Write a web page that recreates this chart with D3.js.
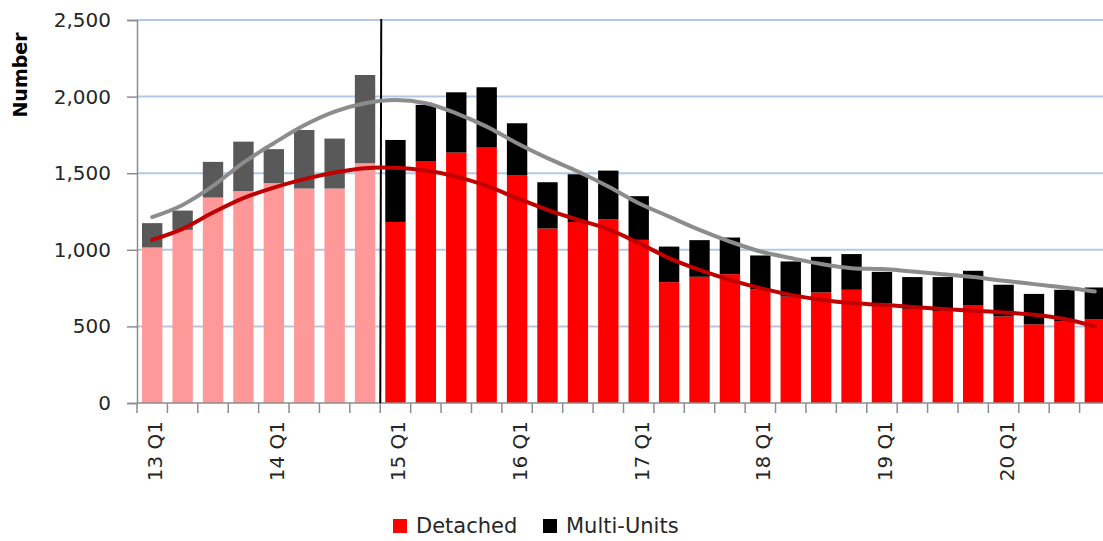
<!DOCTYPE html>
<html>
<head>
<meta charset="utf-8">
<script src="https://cdn.jsdelivr.net/npm/d3@7"></script>
<style>
  html, body { margin: 0; padding: 0; background: #fff; }
  svg { display: block; font-family: "DejaVu Sans", sans-serif; }
</style>
</head>
<body>
<svg id="chart" width="1103" height="541"></svg>
<script>
const quarters = [
  "13 Q1","13 Q2","13 Q3","13 Q4","14 Q1","14 Q2","14 Q3","14 Q4",
  "15 Q1","15 Q2","15 Q3","15 Q4","16 Q1","16 Q2","16 Q3","16 Q4",
  "17 Q1","17 Q2","17 Q3","17 Q4","18 Q1","18 Q2","18 Q3","18 Q4",
  "19 Q1","19 Q2","19 Q3","19 Q4","20 Q1","20 Q2","20 Q3","20 Q4"
];
const detached = [1015,1130,1341,1383,1435,1400,1400,1565, 1182,1576,1635,1667,1485,1139,1182,1200,
                  1065,789,824,841,743,695,722,739, 652,615,597,636,565,513,532,548];
const multiUnits = [159,126,233,323,222,382,326,576, 535,370,393,394,341,302,311,317,
                    285,232,239,239,220,229,232,233, 204,207,225,227,207,199,207,206];
const totalTrend = [1213,1293,1417,1569,1696,1813,1902,1957, 1978,1957,1891,1804,1696,1598,1511,1413,
                    1304,1217,1130,1054,989,946,907,880, 874,858,841,822,798,776,754,728];
const detachedTrend = [1065,1137,1243,1337,1406,1461,1504,1533, 1535,1517,1478,1417,1337,1261,1196,1135,
                       1044,946,869,804,750,706,674,652, 641,626,613,602,591,576,548,500];
const yTicks = [0,500,1000,1500,2000,2500];
const splitQuarter = "15 Q1";
const legendItems = ["Detached","Multi-Units"];

const svg = d3.select("#chart");
const pLeft = 137, pRight = 1110, pTop = 20, pBottom = 403;

const x = d3.scaleBand().domain(quarters).range([pLeft, pRight]).paddingInner(0.33).paddingOuter(0.165);
const step = x.step();
const y = d3.scaleLinear().domain([0, 2500]).range([pBottom, pTop]);

// gridlines
svg.append("g").selectAll("line").data(yTicks.filter(d => d > 0)).join("line")
  .attr("x1", pLeft).attr("x2", 1103)
  .attr("y1", d => y(d)).attr("y2", d => y(d))
  .attr("stroke", "#B4C7E7").attr("stroke-width", 2);

const splitIndex = quarters.indexOf(splitQuarter);
const data = quarters.map((q, i) => ({q, i, det: detached[i], mu: multiUnits[i]}));

// bars
const bars = svg.append("g");
bars.selectAll("rect.det").data(data).join("rect").attr("class", "det")
  .attr("x", d => x(d.q)).attr("width", x.bandwidth())
  .attr("y", d => y(d.det)).attr("height", d => y(0) - y(d.det))
  .attr("fill", d => d.i < splitIndex ? "#FF9999" : "#FF0000");
bars.selectAll("rect.mu").data(data).join("rect").attr("class", "mu")
  .attr("x", d => x(d.q)).attr("width", x.bandwidth())
  .attr("y", d => y(d.det + d.mu)).attr("height", d => y(d.det) - y(d.det + d.mu))
  .attr("fill", d => d.i < splitIndex ? "#595959" : "#000000");

// y axis
const yAxis = svg.append("g").attr("transform", `translate(${pLeft},0)`)
  .call(d3.axisLeft(y).tickValues(yTicks).tickSize(10).tickPadding(16).tickFormat(d3.format(",")));
yAxis.select(".domain").attr("stroke", "#8C8C8C").attr("stroke-width", 1.5);
yAxis.selectAll(".tick line").attr("stroke", "#8C8C8C").attr("stroke-width", 1.5);
yAxis.selectAll(".tick text").attr("font-size", 20).attr("fill", "#262626")
  .attr("font-family", "DejaVu Sans");

// x axis
const xi = d3.scaleLinear().domain([0, quarters.length]).range([pLeft, pLeft + step * quarters.length]);
const xAxis = svg.append("g").attr("transform", `translate(0,${pBottom})`);
xAxis.append("line").attr("x1", pLeft).attr("x2", 1103).attr("y1", 0).attr("y2", 0)
  .attr("stroke", "#8C8C8C").attr("stroke-width", 1.5);
xAxis.selectAll("line.tk").data(d3.range(quarters.length + 1)).join("line").attr("class", "tk")
  .attr("x1", d => xi(d)).attr("x2", d => xi(d)).attr("y1", 0).attr("y2", 10)
  .attr("stroke", "#8C8C8C").attr("stroke-width", 1.5);
xAxis.selectAll("text").data(quarters.filter(q => q.endsWith("Q1"))).join("text")
  .attr("transform", q => `translate(${x(q) + x.bandwidth() / 2 + 3},18) rotate(-90)`)
  .attr("text-anchor", "end").attr("dy", "0.35em")
  .attr("font-size", 20).attr("fill", "#262626")
  .text(q => q);

// split line
const sx = x(splitQuarter) - (step - x.bandwidth()) / 2;
svg.append("line").attr("x1", sx + 1).attr("x2", sx).attr("y1", pTop - 1).attr("y2", pBottom)
  .attr("stroke", "#000").attr("stroke-width", 2);

// trend lines
const line = d3.line().x((d, i) => x(quarters[i]) + x.bandwidth() / 2).y(d => y(d)).curve(d3.curveCatmullRom.alpha(0.5));
svg.append("path").datum(totalTrend).attr("d", line)
  .attr("fill", "none").attr("stroke", "#8C8C8C").attr("stroke-width", 4).attr("stroke-linecap", "round");
svg.append("path").datum(detachedTrend).attr("d", line)
  .attr("fill", "none").attr("stroke", "#C00000").attr("stroke-width", 4).attr("stroke-linecap", "round");

// y title
svg.append("text").attr("transform", "translate(27,75) rotate(-90)")
  .attr("text-anchor", "middle").attr("font-weight", "bold").attr("font-size", 19).attr("fill", "#000")
  .text("Number");

// legend
const legColors = ["#FF0000", "#000000"];
const legX = [393, 543];
const leg = svg.append("g");
legendItems.forEach((name, i) => {
  leg.append("rect").attr("x", legX[i]).attr("y", 519).attr("width", 14).attr("height", 14).attr("fill", legColors[i]);
  leg.append("text").attr("x", legX[i] + 23).attr("y", 533).attr("font-size", 21).attr("fill", "#262626").text(name);
});
</script>
</body>
</html>
